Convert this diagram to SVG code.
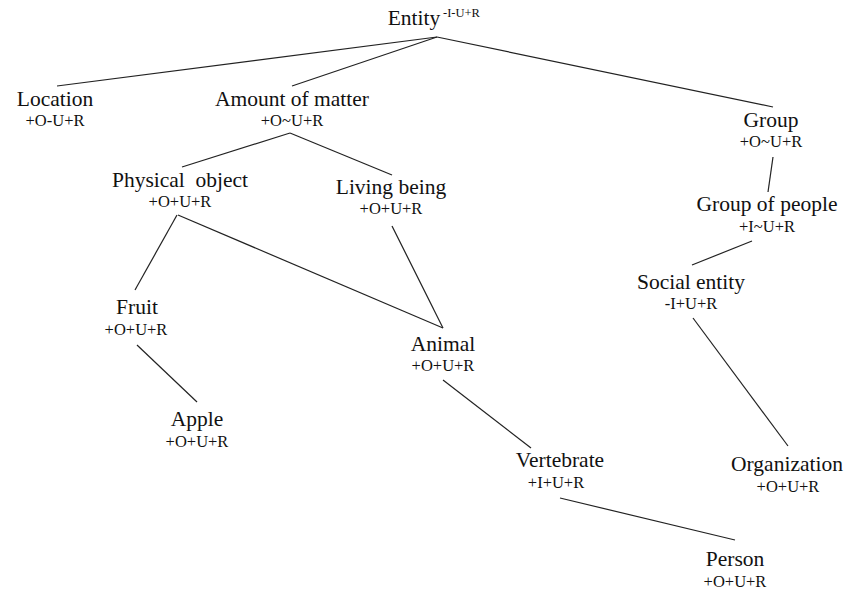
<svg xmlns="http://www.w3.org/2000/svg" width="849" height="591" viewBox="0 0 849 591">
<style>
.t{font-size:21.5px;text-anchor:middle}
.s{font-size:16.5px;text-anchor:middle}
.sup{font-size:12.5px}
.e line{stroke:#222;stroke-width:1.2}
</style>
<rect width="849" height="591" fill="#fff"/>
<g class="e" id="connectors">
<line x1="437" y1="37" x2="57" y2="86"/>
<line x1="437" y1="37" x2="292" y2="86"/>
<line x1="437" y1="37" x2="773" y2="107"/>
<line x1="290" y1="133" x2="182" y2="167"/>
<line x1="290" y1="133" x2="392" y2="175"/>
<line x1="177" y1="215" x2="135" y2="290"/>
<line x1="178" y1="215" x2="443" y2="328"/>
<line x1="392" y1="226" x2="443" y2="328"/>
<line x1="137" y1="345" x2="197" y2="402"/>
<line x1="443" y1="380" x2="531" y2="448"/>
<line x1="560" y1="498" x2="735" y2="540"/>
<line x1="773" y1="157" x2="768" y2="192"/>
<line x1="752" y1="241" x2="692" y2="265"/>
<line x1="693" y1="318" x2="788" y2="446"/>
</g>
<g font-family="'Liberation Serif', 'DejaVu Serif', serif" fill="#111">
<g id="entity"><text class="t" x="414" y="25">Entity</text><text class="sup" x="443" y="17">-I-U+R</text></g>
<g id="location"><text class="t" x="55" y="106">Location</text><text class="s" x="55" y="126">+O-U+R</text></g>
<g id="amount"><text class="t" x="292" y="106">Amount of matter</text><text class="s" x="292" y="126">+O~U+R</text></g>
<g id="group"><text class="t" x="771" y="127">Group</text><text class="s" x="771" y="147">+O~U+R</text></g>
<g id="groupofpeople"><text class="t" x="767" y="211">Group of people</text><text class="s" x="767" y="232">+I~U+R</text></g>
<g id="socialentity"><text class="t" x="691" y="289">Social entity</text><text class="s" x="691" y="309">-I+U+R</text></g>
<g id="physicalobject"><text class="t" x="180" y="187" xml:space="preserve">Physical  object</text><text class="s" x="180" y="207">+O+U+R</text></g>
<g id="livingbeing"><text class="t" x="391" y="194">Living being</text><text class="s" x="391" y="214">+O+U+R</text></g>
<g id="fruit"><text class="t" x="137" y="314">Fruit</text><text class="s" x="136" y="335">+O+U+R</text></g>
<g id="apple"><text class="t" x="197" y="426">Apple</text><text class="s" x="197" y="447">+O+U+R</text></g>
<g id="animal"><text class="t" x="443" y="351">Animal</text><text class="s" x="443" y="371">+O+U+R</text></g>
<g id="vertebrate"><text class="t" x="560" y="467">Vertebrate</text><text class="s" x="556" y="488">+I+U+R</text></g>
<g id="organization"><text class="t" x="787" y="471">Organization</text><text class="s" x="788" y="492">+O+U+R</text></g>
<g id="person"><text class="t" x="735" y="566">Person</text><text class="s" x="735" y="587">+O+U+R</text></g>
</g>
</svg>
